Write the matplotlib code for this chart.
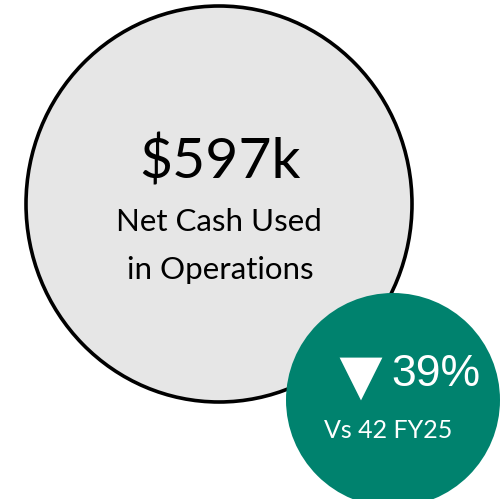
import matplotlib
matplotlib.use("Agg")
import matplotlib.pyplot as plt
from matplotlib.patches import Ellipse

# values shown on the card
headline = "$597k"
caption_lines = ["Net Cash Used", "in Operations"]
change_pct = 39
change_dir = "down"
comparison = "Vs 42 FY25"

gray = "#e6e6e6"
green = "#00826e"

fig = plt.figure(figsize=(5.0, 4.99), dpi=100)
ax = fig.add_axes([0, 0, 1, 1])
ax.set_xlim(0, 500)
ax.set_ylim(499, 0)
ax.axis("off")

# big gray circle (pixel units)
big = Ellipse((219, 204), 386, 396, facecolor=gray, edgecolor="black", linewidth=2.6, zorder=1)
ax.add_patch(big)

# green badge on top
badge = Ellipse((393, 400), 214, 214, facecolor=green, edgecolor="none", zorder=2)
ax.add_patch(badge)

ax.text(220, 162, headline, fontsize=41, family="Lato", ha="center", va="center", color="black", zorder=3)
ax.text(219, 222, caption_lines[0], fontsize=22.5, family="Lato", ha="center", va="center", color="black", zorder=3)
ax.text(220, 268, caption_lines[1], fontsize=22.5, family="Lato", ha="center", va="center_baseline", color="black", zorder=3)

marker = "v" if change_dir == "down" else "^"
ax.scatter([361], [379], marker=marker, s=950, color="white", edgecolors="none", zorder=3)
ax.text(436, 374, f"{change_pct}%", fontsize=32, family="Liberation Sans", ha="center", va="center",
        color="white", zorder=3)
ax.text(388, 430, comparison, fontsize=18, family="Lato", ha="center", va="center", color="white", zorder=3)

fig.savefig("out.png", dpi=100)
